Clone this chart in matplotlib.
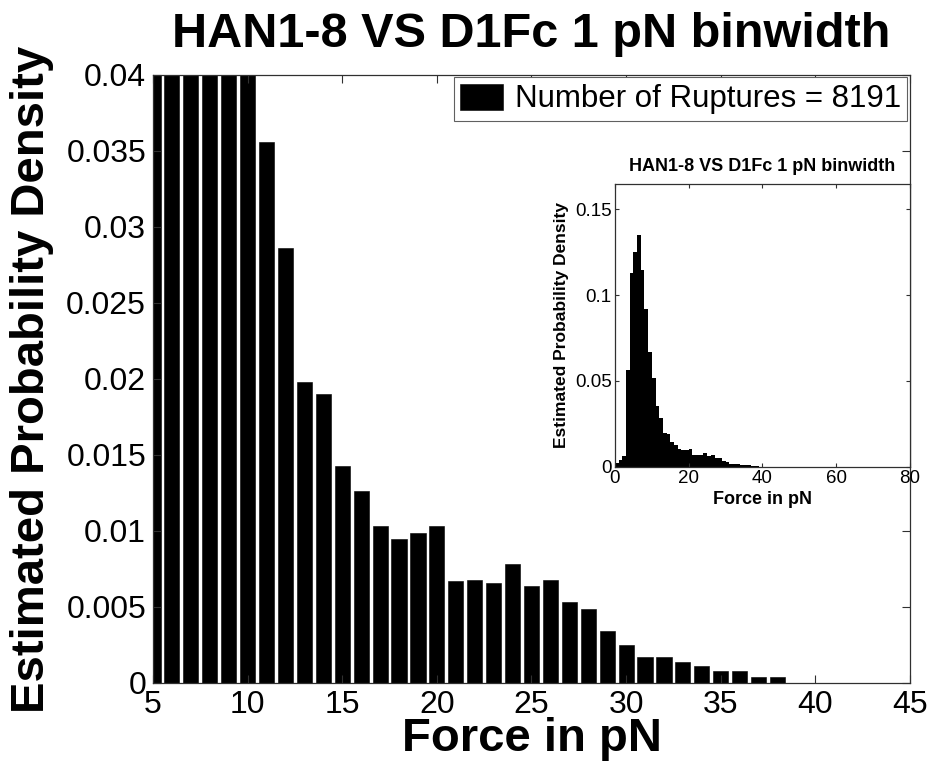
"""
Rupture force histogram (1 pN bins) with a zoomed-out inset of the full range.
"""
import numpy as np
import matplotlib
matplotlib.use("Agg")
import matplotlib.pyplot as plt
from matplotlib.ticker import FuncFormatter

plt.rcParams["font.family"] = ["Liberation Sans", "DejaVu Sans"]

# estimated probability density per 1 pN bin, bins 0..38 pN
bin_force = np.arange(0, 39)
density = [
    0.0020, 0.0039, 0.0064, 0.0563, 0.1126, 0.1251, 0.1349, 0.1149, 0.0918, 0.0670,
    0.0515, 0.0356, 0.0286, 0.0198, 0.0190, 0.0143, 0.0126, 0.0103, 0.0095, 0.0099,
    0.0103, 0.0067, 0.0068, 0.0066, 0.0078, 0.0064, 0.0068, 0.0053, 0.0049, 0.0034,
    0.0025, 0.0017, 0.0017, 0.0014, 0.0011, 0.0008, 0.0008, 0.0004, 0.0004,
]
n_ruptures = 8191
title = "HAN1-8 VS D1Fc 1 pN binwidth"

main_xticks = [5, 10, 15, 20, 25, 30, 35, 40, 45]
main_yticks = [0, 0.005, 0.01, 0.015, 0.02, 0.025, 0.03, 0.035, 0.04]
inset_xticks = [0, 20, 40, 60, 80]
inset_yticks = [0, 0.05, 0.1, 0.15]

SPINE = "#303030"
fmt = FuncFormatter(lambda v, _: f"{v:g}")


def style_axes(ax, size, length, pad):
    for s in ax.spines.values():
        s.set_color(SPINE)
        s.set_linewidth(0.9)
    ax.tick_params(direction="in", top=True, right=True, length=length, width=0.8,
                   color=SPINE, labelsize=size, pad=pad)


fig = plt.figure(figsize=(9.29, 7.65), dpi=100)

# main panel
ax = fig.add_axes([0.1647, 0.1072, 0.8148, 0.7948])
ax.bar(bin_force, density, width=0.8, color="black", edgecolor="black", linewidth=0.4,
       label=f"Number of Ruptures = {n_ruptures}")
ax.set_xlim(5, 45)
ax.set_ylim(0, 0.04)
ax.set_xticks(main_xticks)
ax.set_yticks(main_yticks)
ax.yaxis.set_major_formatter(fmt)
style_axes(ax, 23, 6, 5)
ax.set_title(title, fontsize=35, fontweight="bold", pad=20)
ax.set_xlabel("Force in pN", fontsize=34, fontweight="bold", labelpad=-2)
ax.set_ylabel("Estimated Probability Density", fontsize=34, fontweight="bold", labelpad=9)
leg = ax.legend(loc="upper right", fontsize=22.5, fancybox=False, framealpha=1,
                edgecolor="#606060", handlelength=1.35, handleheight=0.9,
                handletextpad=0.4, borderpad=0.2, borderaxespad=0.08)
leg.get_frame().set_linewidth(0.8)

# inset with the full force range
ins = fig.add_axes([0.662, 0.390, 0.3175, 0.370])
ins.bar(bin_force, density, width=1.0, align="edge", color="black", linewidth=0)
ins.set_xlim(0, 80)
ins.set_ylim(0, 0.165)
ins.set_xticks(inset_xticks)
ins.set_yticks(inset_yticks)
ins.yaxis.set_major_formatter(fmt)
style_axes(ins, 13.5, 3, 2.5)
ins.set_title(title, fontsize=13, fontweight="bold", pad=9)
ins.set_xlabel("Force in pN", fontsize=13, fontweight="bold", labelpad=3)
ins.set_ylabel("Estimated Probability Density", fontsize=12.5, fontweight="bold", labelpad=4)

fig.savefig("out.png", dpi=100)
